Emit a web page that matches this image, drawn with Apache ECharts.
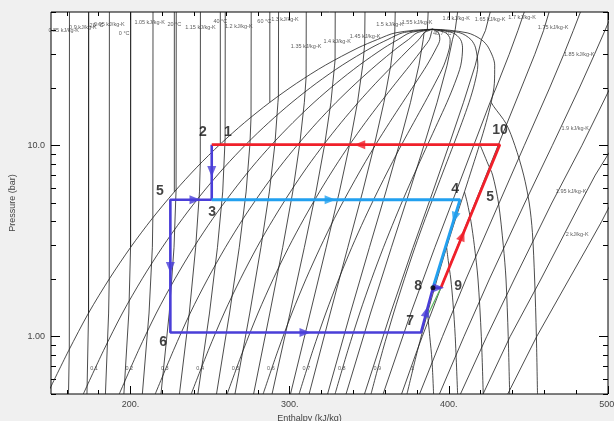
<!DOCTYPE html>
<html><head><meta charset="utf-8">
<script src="https://cdn.jsdelivr.net/npm/echarts@6.0.0/dist/echarts.min.js"></script>
<style>html,body{margin:0;padding:0;background:#f0f0f0}#c{width:614px;height:421px}</style>
</head><body><div id="c"></div>
<script>
// ===== DATA (R-134a P-h diagram) =====
// saturation pressures (bar) shared by dome and quality lines
const satP = [0.5,0.844,1.327,2.006,2.928,4.146,5.717,7.702,10.17,13.18,16.82,21.17,26.33,32.44,35.91,38.9,40.59];
const satLiquidH = [147.7,161.1,173.6,186.7,200.0,213.6,227.5,241.7,256.4,271.6,287.5,304.3,322.4,342.9,355.2,366.5,389.6];
const satVaporH  = [373.7,380.3,386.6,392.7,398.6,404.3,409.8,414.8,419.4,423.4,426.6,428.6,428.8,425.0,420.3,411.5,389.6];
// constant-quality lines, h (kJ/kg) at each satP
const qualityNames = ['0.1','0.2','0.3','0.4','0.5','0.6','0.7','0.8','0.9'];
const qualityH = [
 [170.3,183.0,194.9,207.3,219.9,232.7,245.7,259.0,272.7,286.8,301.4,316.7,333.0,351.1,361.7,371.0,389.6],
 [192.9,204.9,216.2,227.9,239.7,251.7,264.0,276.3,289.0,302.0,315.3,329.2,343.7,359.3,368.2,375.5,389.6],
 [215.5,226.9,237.5,248.5,259.6,270.8,282.2,293.6,305.3,317.1,329.2,341.6,354.3,367.5,374.7,380.0,389.6],
 [238.1,248.8,258.8,269.1,279.4,289.9,300.4,310.9,321.6,332.3,343.1,354.0,365.0,375.7,381.2,384.5,389.6],
 [260.7,270.7,280.1,289.7,299.3,309.0,318.7,328.3,337.9,347.5,357.1,366.5,375.6,384.0,387.8,389.0,389.6],
 [283.3,292.6,301.4,310.3,319.2,328.0,336.9,345.6,354.2,362.7,371.0,378.9,386.2,392.2,394.3,393.5,389.6],
 [305.9,314.5,322.7,330.9,339.0,347.1,355.1,362.9,370.5,377.9,384.9,391.3,396.9,400.4,400.8,398.0,389.6],
 [328.5,336.5,344.0,351.5,358.9,366.2,373.3,380.2,386.8,393.0,398.8,403.7,407.5,408.6,407.3,402.5,389.6],
 [351.1,358.4,365.3,372.1,378.7,385.2,391.6,397.5,403.1,408.2,412.7,416.2,418.2,416.8,413.8,407.0,389.6]
];
// isentropes [h, P]
const isentropeLines = [
 [[161.6,50],[161.5,0.855],[161.0,0.5]],
 [[173.7,50],[173.6,1.327],[172.6,0.5]],
 [[186.7,50],[186.6,2.0],[186.2,1.327],[184.2,0.5]],
 [[200.1,50],[200.0,2.928],[198.9,1.327],[195.8,0.5]],
 [[214.1,50],[214.0,4.19],[213.7,2.928],[211.6,1.327],[207.4,0.5]],
 [[228.7,50],[228.6,5.86],[227.3,2.928],[224.3,1.327],[219.1,0.5]],
 [[243.9,50],[243.8,8.0],[243.3,5.717],[240.9,2.928],[236.9,1.327],[230.7,0.5]],
 [[259.5,50],[259.4,10.8],[257.9,5.717],[254.6,2.928],[249.6,1.327],[242.3,0.5]],
 [[275.8,50],[275.7,14.1],[275.0,10.17],[272.6,5.717],[268.3,2.928],[262.2,1.327],[254.0,0.5]],
 [[293.0,50],[292.9,18.1],[292.6,16.82],[290.7,10.17],[287.2,5.717],[281.9,2.928],[274.9,1.327],[265.6,0.5]],
 [[310.4,50],[310.3,22.7],[309.2,16.82],[306.3,10.17],[301.9,5.717],[295.6,2.928],[287.5,1.327],[277.3,0.5]],
 [[328.6,50],[328.5,28.0],[328.2,26.33],[325.9,16.82],[322.0,10.17],[316.5,5.717],[309.2,2.928],[300.2,1.327],[288.9,0.5]],
 [[347.3,50],[347.1,33.6],[346.9,32.44],[345.9,26.33],[342.6,16.82],[337.7,10.17],[331.2,5.717],[322.9,2.928],[312.9,1.327],[300.5,0.5]],
 [[366.3,50],[366.0,37.8],[365.5,35.91],[363.5,26.33],[359.2,16.82],[353.3,10.17],[345.8,5.717],[336.5,2.928],[325.5,1.327],[312.2,0.5]],
 [[387.0,50],[386.5,40.5],[384.4,38.9],[383.9,35.91],[381.2,26.33],[375.9,16.82],[368.9,10.17],[360.4,5.717],[350.1,2.928],[338.1,1.327],[323.8,0.5]],
 [[335.4,0.5],[350.8,1.327],[363.9,2.928],[375.2,5.717],[384.6,10.17],[392.6,16.82],[398.9,26.33],[402.3,35.91],[403.5,38.9],[404.0,40.5],[405.5,50]],
 [[347.0,0.5],[363.4,1.327],[377.5,2.928],[389.9,5.717],[400.3,10.17],[409.2,16.82],[416.6,26.33],[420.5,35.91],[423.0,40],[426.0,50]],
 [[358.7,0.5],[376.1,1.327],[391.2,2.928],[404.5,5.717],[415.9,10.17],[425.9,16.82],[427.3,18],[429.6,20],[437.9,30],[443.4,40],[447.4,50]],
 [[370.3,0.5],[380.0,0.844],[383.3,1],[397.1,2],[416.4,5],[430.9,10],[445.5,20],[454.0,30],[459.5,40],[463.0,50]],
 [[381.6,0.5],[396.0,1],[410.8,2],[431.6,5],[447.4,10],[463.3,20],[472.2,30],[478.2,40],[482.7,50]],
 [[394.1,0.5],[409.5,1],[425.5,2],[447.7,5],[465.0,10],[482.0,20],[491.5,30],[498.1,40],[503.0,50]],
 [[407.3,0.5],[423.8,1],[441.2,2],[464.7,5],[483.6,10],[494.0,15],[501.3,20]],
 [[421.5,0.5],[438.5,1],[457.9,2],[482.7,5],[492.0,7],[503.5,10]],
 [[437.0,0.5],[455.2,1],[475.6,2],[487.6,3],[496.0,4],[502.0,5]]
];
// isotherms (-20..60 °C): liquid part and vapour part, [h, P]
const isothermLiquid = [
 [[173.6,50],[173.6,1.327]],
 [[200.0,50],[200.0,2.928]],
 [[227.5,50],[227.5,5.717]],
 [[256.4,50],[256.4,10.17]],
 [[287.5,50],[287.5,16.82]]
];
const isothermVapor = [
 [[386.6,1.327],[388.0,1.0],[389.4,0.75],[390.4,0.5]],
 [[398.6,2.928],[399.6,2.5],[401.2,2],[402.6,1.5],[404.0,1],[405.5,0.5]],
 [[409.8,5.717],[411.6,5],[413.9,4],[416.0,3],[418.3,2],[420.4,1],[421.6,0.5]],
 [[419.4,10.17],[424.6,8],[427.5,7],[431.2,5],[434.2,3],[435.9,2],[437.3,1],[438.2,0.5]],
 [[426.6,16.82],[428.2,16],[436.0,13],[441.5,10],[447.0,7],[450.5,5],[452.5,3.5],[453.9,2],[455.0,1],[455.7,0.5]]
];
// cycle
const redPath = [[251,10.1],[432,10.1],[395,1.8]];
const bluePath = [[251,5.2],[407,5.2],[390,1.8]];
const purplePathA = [[251,10.1],[251,5.2]];
const purplePathB = [[251,5.2],[225,5.2],[225,1.05],[382.5,1.05],[390,1.8],[395,1.8]];
const greenPath = [[385.8,1.25],[395,1.8]];
const point8 = [[390,1.8]];
// arrow heads [h, P, rotation deg]
const redArrows = [[344,10.1,90],[408.5,3.38,-22]];
const blueArrows = [[325.4,5.2,-90],[403.6,4.2,163]];
const purpleArrows = [[251,7.3,180],[240.5,5.2,-90],[225,2.3,180],[309.6,1.05,-90],[386,1.35,-15],[393.5,1.8,-90]];
// cycle state labels [text, h, P]
const stateLabels = [['1',261.2,11.7],['2',245.5,11.7],['3',251.2,4.46],['4',403.9,5.89],['5',218.5,5.74],['5',426,5.35],
 ['6',220.4,0.93],['7',375.6,1.2],['8',380.7,1.83],['9',405.8,1.83],['10',432.2,11.98]];
// curve labels [text, h, P]
const curveLabels = [
 ['0.1',177,0.68],['0.2',199.2,0.68],['0.3',221.5,0.68],['0.4',243.7,0.68],['0.5',266,0.68],['0.6',288.2,0.68],
 ['0.7',310.5,0.68],['0.8',332.7,0.68],['0.9',355,0.68],['1',377.2,0.68],
 ['0.85 kJ/kg-K',158,40.0],['0.9 kJ/kg-K',170,41.5],['-20 °C',178,42.5],['0.95 kJ/kg-K',186.7,43.0],['0 °C',196,38.5],
 ['1.05 kJ/kg-K',212,44.0],['20 °C',227.5,43.0],['1.15 kJ/kg-K',243.9,41.5],['40 °C',256.4,44.6],['1.2 kJ/kg-K',268,42.0],
 ['60 °C',284,44.6],['1.3 kJ/kg-K',297,45.7],['1.35 kJ/kg-K',310.3,33.0],['1.4 kJ/kg-K',329.8,35.0],['1.45 kJ/kg-K',347.4,37.2],
 ['1.5 kJ/kg-K',363,43.0],['1.55 kJ/kg-K',380,44.0],['40.7 °C',395.8,38.5],['1.6 kJ/kg-K',404.6,46.0],['1.65 kJ/kg-K',425.9,45.7],
 ['1.7 kJ/kg-K',446,46.8],['1.75 kJ/kg-K',465.5,41.5],['1.85 kJ/kg-K',481.9,29.9],['1.9 kJ/kg-K',479.4,12.3],
 ['1.95 kJ/kg-K',476.8,5.74],['2 kJ/kg-K',480.6,3.42]
];
const xMajor = [200,300,400,500];
const xMinor = [160,180,220,240,260,280,320,340,360,380,420,440,460,480];
const yMajor = [1,10];
const yMinor = [0.5,0.6,0.7,0.8,0.9,2,3,4,5,6,7,8,9,20,30,40,50];

// ===== BUILD =====
const zip = (hs) => hs.map((h,i)=>[h, satP[i]]);
const bgStyle = {color:'#1e1e1e', width:0.8};
function bg(data, smooth){
  return {type:'line', data, symbol:'none', silent:true, smooth: smooth||false, lineStyle:bgStyle, z:1, animation:false};
}
const series = [];
series.push(bg(zip(satLiquidH).concat(zip(satVaporH).reverse().slice(1)), 0.3));
qualityH.forEach(q=>series.push(bg(zip(q), 0.3)));
isentropeLines.forEach(l=>series.push(bg(l, false)));
isothermLiquid.forEach(l=>series.push(bg(l, false)));
isothermVapor.forEach(l=>series.push(bg(l, 0.3)));

function path(data, color, w){
  return {type:'line', data, symbol:'none', silent:true, lineStyle:{color, width:w}, z:4, animation:false};
}
series.push(path(greenPath,'#5cb85c',1.2));
series.push(path(purplePathA,'#4a3ed8',2.6));
series.push(path(purplePathB,'#4a3ed8',2.6));
series.push(path(redPath,'#f0202a',2.8));
series.push(path(bluePath,'#22a0ef',2.8));
function arrows(list, color){
  return {type:'scatter', symbol:'triangle', symbolSize:[9,11], z:6, silent:true, animation:false,
    itemStyle:{color}, data:list.map(a=>({value:[a[0],a[1]], symbolRotate:a[2]}))};
}
series.push(arrows(purpleArrows,'#4a3ed8'));
series.push(arrows(redArrows,'#f0202a'));
series.push(arrows(blueArrows,'#22a0ef'));
series.push({type:'scatter', data:point8, symbol:'circle', symbolSize:5, itemStyle:{color:'#000'}, z:7, silent:true, animation:false});
series.push({type:'scatter', symbolSize:0, z:8, silent:true, animation:false,
  data: stateLabels.map(l=>({name:l[0], value:[l[1],l[2]]})),
  label:{show:true, position:'inside', formatter:p=>p.name, fontSize:14, fontWeight:'bold', color:'#111', fontFamily:'Liberation Sans'}});
series.push({type:'scatter', symbolSize:0, z:3, silent:true, animation:false,
  data: curveLabels.map(l=>({name:l[0], value:[l[1],l[2]]})),
  label:{show:true, position:'inside', formatter:p=>p.name, fontSize:5.5, color:'#333', fontFamily:'Liberation Sans'}});

const xBase = {type:'value', min:150, max:500, splitLine:{show:false}, axisLine:{show:false}};
const yBase = {type:'log', logBase:10, min:0.5, max:50, splitLine:{show:false}, axisLine:{show:false}};
const tickStyle = {color:'#000', width:1};
const option = {
  backgroundColor:'#f0f0f0',
  animation:false,
  grid:{left:51, right:6, top:12, bottom:27, outerBoundsMode:'none', containLabel:false, show:true, backgroundColor:'#fff', borderColor:'#000', borderWidth:1},
  xAxis:[
    Object.assign({}, xBase, {position:'bottom', axisTick:{show:true, inside:true, length:8, customValues:xMajor, lineStyle:tickStyle},
      axisLabel:{show:true, customValues:xMajor, formatter:v=>v+'.', fontSize:9, color:'#444', margin:6, fontFamily:'Liberation Sans'},
      name:'Enthalpy (kJ/kg)', nameLocation:'middle', nameGap:17, nameTextStyle:{fontSize:9, color:'#444', padding:[0,40,0,0], fontFamily:'Liberation Sans'}}),
    Object.assign({}, xBase, {position:'bottom', axisTick:{show:true, inside:true, length:4, customValues:xMinor, lineStyle:tickStyle}, axisLabel:{show:false}}),
    Object.assign({}, xBase, {position:'top', axisTick:{show:true, inside:true, length:8, customValues:xMajor, lineStyle:tickStyle}, axisLabel:{show:false}}),
    Object.assign({}, xBase, {position:'top', axisTick:{show:true, inside:true, length:4, customValues:xMinor, lineStyle:tickStyle}, axisLabel:{show:false}})
  ],
  yAxis:[
    Object.assign({}, yBase, {position:'left', axisTick:{show:true, inside:true, length:9, customValues:yMajor, lineStyle:tickStyle},
      axisLabel:{show:true, customValues:yMajor, formatter:v=> v>5?'10.0':'1.00', fontSize:9, color:'#444', margin:6, fontFamily:'Liberation Sans'},
      name:'Pressure (bar)', nameLocation:'middle', nameGap:33, nameTextStyle:{fontSize:9, color:'#444', fontFamily:'Liberation Sans'}}),
    Object.assign({}, yBase, {position:'left', axisTick:{show:true, inside:true, length:5, customValues:yMinor, lineStyle:tickStyle}, axisLabel:{show:false}}),
    Object.assign({}, yBase, {position:'right', axisTick:{show:true, inside:true, length:9, customValues:yMajor, lineStyle:tickStyle}, axisLabel:{show:false}}),
    Object.assign({}, yBase, {position:'right', axisTick:{show:true, inside:true, length:5, customValues:yMinor, lineStyle:tickStyle}, axisLabel:{show:false}})
  ],
  series: series
};
const chart = echarts.init(document.getElementById('c'), null, {renderer:'canvas'});
chart.setOption(option);
</script></body></html>
